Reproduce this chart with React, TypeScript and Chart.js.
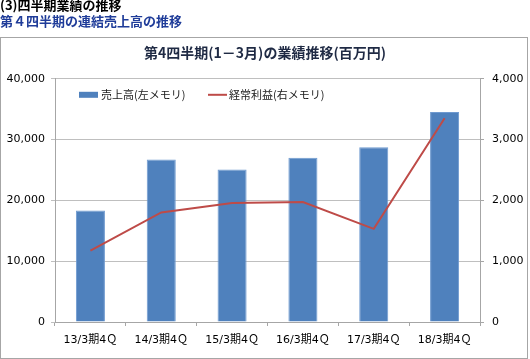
import React, { useEffect, useRef } from "react";
import { Chart, registerables } from "chart.js";

Chart.register(...registerables);

const pageHeading = "(3)四半期業績の推移";
const subHeading = "第４四半期の連結売上高の推移";
const chartTitle = "第4四半期(1－3月)の業績推移(百万円)";
const categories = ["13/3期4Ｑ", "14/3期4Ｑ", "15/3期4Ｑ", "16/3期4Ｑ", "17/3期4Ｑ", "18/3期4Ｑ"];
const salesLabel = "売上高(左メモリ)";
const profitLabel = "経常利益(右メモリ)";
const salesValues = [18350, 26730, 25070, 27000, 28760, 34550];
const profitValues = [1174, 1802, 1957, 1973, 1532, 3350];
const leftMax = 40000;
const leftStep = 10000;
const rightMax = 4000;
const rightStep = 1000;

const FONT = "'DejaVu Sans', 'Noto Sans CJK JP', sans-serif";
const CJK = "'Noto Sans CJK JP', 'DejaVu Sans', sans-serif";

const legendPlugin = {
  id: "insideLegend",
  afterDraw(chart: any) {
    const ctx = chart.ctx;
    const area = chart.chartArea;
    const y = area.top + 16;
    ctx.save();
    ctx.font = `11px ${CJK}`;
    ctx.textBaseline = "middle";
    const ds = chart.data.datasets;
    let x = area.left + 24;
    ctx.fillStyle = ds[0].backgroundColor;
    ctx.fillRect(x, y - 3, 19, 6);
    ctx.fillStyle = "#1a1a1a";
    ctx.fillText(ds[0].label, x + 22, y);
    x = area.left + 153;
    ctx.strokeStyle = ds[1].borderColor;
    ctx.lineWidth = 2;
    ctx.beginPath();
    ctx.moveTo(x, y);
    ctx.lineTo(x + 19, y);
    ctx.stroke();
    ctx.fillText(ds[1].label, x + 21, y);
    ctx.restore();
  },
};

export default function App() {
  const ref = useRef<HTMLCanvasElement | null>(null);

  useEffect(() => {
    if (!ref.current) return;
    const chart = new Chart(ref.current, {
      type: "bar",
      data: {
        labels: categories,
        datasets: [
          {
            type: "bar",
            label: salesLabel,
            data: salesValues,
            backgroundColor: "#4F81BD",
            borderColor: "#6f9ad0",
            borderWidth: 1,
            yAxisID: "y",
            categoryPercentage: 1,
            barPercentage: 0.41,
            order: 2,
          },
          {
            type: "line",
            label: profitLabel,
            data: profitValues,
            borderColor: "#BE4B48",
            backgroundColor: "#BE4B48",
            borderWidth: 2,
            pointRadius: 0,
            tension: 0,
            yAxisID: "y1",
            order: 1,
          },
        ] as any,
      },
      options: {
        animation: false,
        responsive: false,
        devicePixelRatio: 1,
        layout: { padding: { top: 0, left: 0, right: 0, bottom: 0 } },
        plugins: {
          legend: { display: false },
          tooltip: { enabled: false },
          title: {
            display: true,
            text: chartTitle,
            color: "#1f2a44",
            font: { size: 14, weight: "bold", family: CJK },
            padding: { top: 44, bottom: 18 },
          },
        },
        scales: {
          x: {
            grid: {
              display: true,
              drawOnChartArea: false,
              offset: true,
              tickLength: 4,
              color: "#a6a6a6",
            },
            border: { color: "#a6a6a6" },
            ticks: { color: "#000", font: { size: 11, family: FONT }, padding: 8, maxRotation: 0 },
            afterFit: (s: any) => {
              s.height = 37;
            },
          },
          y: {
            position: "left",
            min: 0,
            max: leftMax,
            grid: { color: "#bfbfbf", tickLength: 4 },
            border: { color: "#a6a6a6" },
            ticks: {
              stepSize: leftStep,
              color: "#000",
              font: { size: 11, family: FONT },
              padding: 6,
              callback: (v: any) => Number(v).toLocaleString("en-US"),
            },
            afterFit: (s: any) => {
              s.width = 55;
            },
          },
          y1: {
            position: "right",
            min: 0,
            max: rightMax,
            grid: { drawOnChartArea: false, color: "#a6a6a6", tickLength: 4 },
            border: { color: "#a6a6a6" },
            ticks: {
              stepSize: rightStep,
              color: "#000",
              font: { size: 11, family: FONT },
              padding: 8,
              callback: (v: any) => Number(v).toLocaleString("en-US"),
            },
            afterFit: (s: any) => {
              s.width = 50;
            },
          },
        },
      } as any,
      plugins: [legendPlugin],
    });
    return () => chart.destroy();
  }, []);

  return (
    <div style={{ position: "absolute", left: 0, top: 0, width: 530, height: 359, background: "#fff", overflow: "hidden" }}>
      <canvas ref={ref} width={530} height={359} style={{ position: "absolute", left: 0, top: 0 }} />
      <div
        style={{
          position: "absolute",
          left: 0,
          top: 37,
          width: 526,
          height: 320,
          border: "1px solid #a6a6a6",
          pointerEvents: "none",
        }}
      />
      <div
        style={{
          position: "absolute",
          left: 0,
          top: -3,
          font: `bold 13px ${CJK}`,
          color: "#000",
          lineHeight: "15px",
          whiteSpace: "nowrap",
        }}
      >
        {pageHeading}
      </div>
      <div
        style={{
          position: "absolute",
          left: 0,
          top: 13,
          font: `bold 13px ${CJK}`,
          color: "#1f3c99",
          lineHeight: "16px",
          whiteSpace: "nowrap",
        }}
      >
        {subHeading}
      </div>
    </div>
  );
}
